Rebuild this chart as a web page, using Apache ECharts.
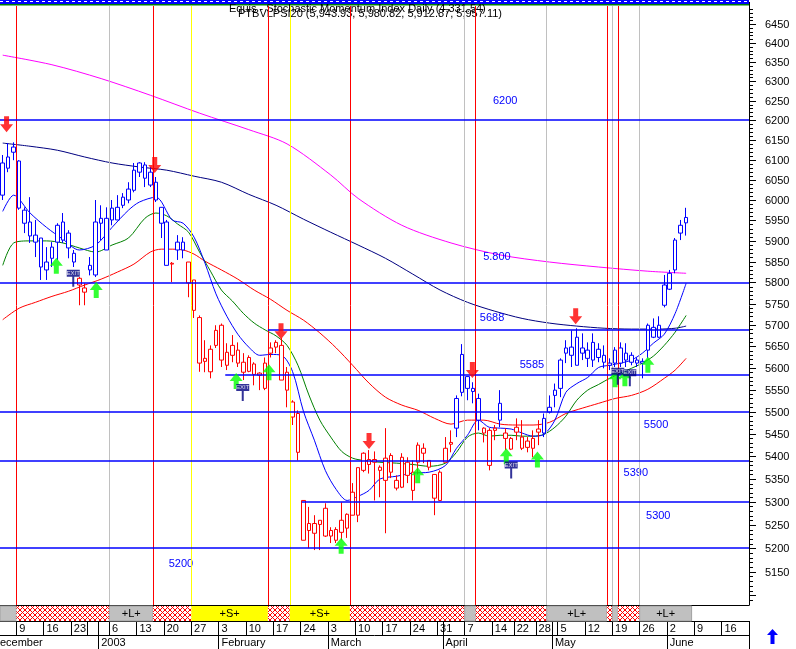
<!DOCTYPE html>
<html>
<head>
<meta charset="utf-8">
<script src="https://cdn.jsdelivr.net/npm/echarts@6/dist/echarts.min.js"></script>
<style>
html,body{margin:0;padding:0;background:#ffffff;}
#chart{width:796px;height:649px;}
</style>
</head>
<body>
<div id="chart"></div>
<script>
// ---------- categories (trading days) ----------
const dates = [
 '2002-12-04','2002-12-05','2002-12-06','2002-12-09','2002-12-10','2002-12-11','2002-12-12','2002-12-13','2002-12-16','2002-12-17',
 '2002-12-18','2002-12-19','2002-12-20','2002-12-23','2002-12-24','2002-12-27','2002-12-30','2002-12-31',
 '2003-01-02','2003-01-03','2003-01-06','2003-01-07','2003-01-08','2003-01-09','2003-01-10','2003-01-13','2003-01-14','2003-01-15',
 '2003-01-16','2003-01-17','2003-01-20','2003-01-21','2003-01-22','2003-01-23','2003-01-24','2003-01-27','2003-01-28','2003-01-29',
 '2003-01-30','2003-01-31',
 '2003-02-03','2003-02-04','2003-02-05','2003-02-06','2003-02-07','2003-02-10','2003-02-11','2003-02-12','2003-02-13','2003-02-14',
 '2003-02-17','2003-02-18','2003-02-19','2003-02-20','2003-02-21','2003-02-24','2003-02-25','2003-02-26','2003-02-27','2003-02-28',
 '2003-03-03','2003-03-04','2003-03-05','2003-03-06','2003-03-07','2003-03-10','2003-03-11','2003-03-12','2003-03-13','2003-03-14',
 '2003-03-17','2003-03-18','2003-03-19','2003-03-20','2003-03-21','2003-03-24','2003-03-25','2003-03-26','2003-03-27','2003-03-28',
 '2003-03-31',
 '2003-04-01','2003-04-02','2003-04-03','2003-04-04','2003-04-07','2003-04-08','2003-04-09','2003-04-10','2003-04-11','2003-04-14',
 '2003-04-15','2003-04-16','2003-04-17','2003-04-22','2003-04-23','2003-04-24','2003-04-25','2003-04-28','2003-04-29','2003-04-30',
 '2003-05-02','2003-05-05','2003-05-06','2003-05-07','2003-05-08','2003-05-09','2003-05-12','2003-05-13','2003-05-14','2003-05-15',
 '2003-05-16','2003-05-19','2003-05-20','2003-05-21','2003-05-22','2003-05-23','2003-05-26','2003-05-27','2003-05-28','2003-05-29',
 '2003-05-30',
 '2003-06-02','2003-06-03','2003-06-04','2003-06-05','2003-06-06','2003-06-09','2003-06-10','2003-06-11','2003-06-12','2003-06-13',
 '2003-06-16','2003-06-17','2003-06-18','2003-06-19','2003-06-20'
];

// ---------- OHLC ----------
const opens = [6012,6079,6119,6097,5975,5946,5914,5907,5830,5858, 5897,5946,5919,5870,5810,5777,5841,5818,5943,5955,
 5951,5951,5987,6000,6024,6069,6087,6037,6044,5982, 5946,5846,5878,5897,5849,5806,5717,5622,5591,5652,
 5699,5606,5629,5641,5613,5592,5609,5588,5553,5634, 5648,5652,5590,5522,5496,5303,5253,5232,5251,5286,
 5226,5240,5234,5243,5271,5271,5407,5382,5393,5376, 5347,5402,5347,5332,5387,5325,5387,5418,5391,5360,
 5303,5387,5427,5463,5544,5580,5546,5530,5463,5458, 5463,5519,5452,5440,5465,5443,5420,5418,5461,5452,
 5499,5537,5553,5634,5629,5671,5646,5641,5618,5643, 5613,5606,5611,5646,5634,5629,5611,5611,5641,5694,
 5671,5746,5784,5830,5919,5943.93];
const closes = [6092,6107,6132,5980,5943,5912,5897,5837,5849,5885, 5938,5902,5883,5849,5794,5787,5830,5946,5955,5878,
 5980,5982,6007,6027,6074,6092,6054,6069,6000,5943, 5841,5844,5897,5878,5799,5734,5611,5615,5643,5687,
 5618,5636,5652,5611,5590,5624,5585,5583,5611,5646, 5659,5572,5549,5488,5409,5217,5238,5253,5260,5226,
 5238,5217,5260,5273,5321,5375,5369,5393,5387,5369, 5396,5365,5330,5398,5358,5365,5425,5407,5376,5308,
 5365,5418,5431,5530,5631,5553,5553,5481,5452,5380, 5458,5481,5440,5416,5454,5418,5434,5440,5454,5485,
 5510,5549,5618,5646,5648,5606,5634,5622,5659,5624, 5629,5611,5641,5611,5618,5613,5618,5615,5699,5671,
 5699,5794,5822,5902,5938,5957.11];
const lows = [6000,6069,6099,5976,5919,5895,5861,5806,5806,5837, 5854,5895,5858,5837,5746,5746,5817,5813,5902,5878,
 5938,5951,5980,5992,6019,6057,6032,6032,5995,5907, 5841,5801,5854,5858,5765,5716,5591,5590,5576,5646,
 5602,5595,5613,5602,5572,5590,5560,5549,5549,5624, 5634,5572,5510,5470,5391,5217,5200,5196,5196,5224,
 5211,5211,5217,5222,5271,5256,5365,5362,5303,5310, 5232,5352,5325,5330,5341,5303,5360,5385,5369,5271,
 5303,5387,5409,5443,5535,5526,5519,5458,5431,5369, 5436,5465,5414,5414,5436,5414,5409,5398,5425,5443,
 5496,5510,5533,5611,5602,5606,5618,5602,5602,5613, 5599,5595,5602,5602,5602,5606,5602,5576,5622,5669,
 5669,5741,5782,5822,5902,5912.87];
const highs = [6112,6142,6144,6099,5982,6007,5951,5907,5885,5897, 5943,5968,5926,5878,5813,5798,5861,6000,5987,5982,
 6000,6012,6017,6044,6092,6094,6094,6082,6057,5982, 5951,5849,5914,5909,5849,5806,5722,5664,5652,5699,
 5703,5657,5676,5659,5634,5629,5613,5590,5624,5659, 5664,5669,5602,5526,5503,5303,5289,5271,5260,5297,
 5245,5245,5299,5275,5341,5375,5409,5414,5411,5380, 5463,5407,5358,5407,5398,5391,5431,5429,5391,5360,
 5369,5443,5458,5537,5655,5580,5567,5541,5465,5463, 5470,5549,5463,5443,5485,5481,5443,5458,5481,5496,
 5537,5564,5622,5664,5687,5692,5680,5659,5680,5657, 5652,5622,5648,5659,5657,5636,5624,5622,5703,5715,
 5720,5818,5830,5907,5951,5980.82];
// candle colour regime: b = blue, r = red
const candleColor = ('bbbbbbbbbbbbbb' + 'rr' + 'bbbbbbbbbbbbbbb' + 'r' + 'bb' +
  'rrrrrrrrrrrrrrrrrrrrrrrrrrrrrrrrrrrrrrrrrrrrrrrrr' + 'bbbbb' + 'rrr' + 'b' + 'rrrrrrr' +
  'bbbbbbbbbbbbbbbbbbbbbbbbbbb').split('');

// ---------- moving averages [day index, value] ----------
const maMagenta = [[0,6368],[9,6343],[18,6307],[27,6264],[36,6218],[45,6176],[52,6140],[60,6062],[65,6004],[73,5938],[82,5895],[91,5866],[100,5849],[109,5837],[118,5827],[125,5822]];
const maNavy = [[0,6142],[5,6134],[10,6124],[15,6107],[20,6092],[25,6082],[30,6074],[35,6059],[40,6044],[45,6014],[50,5987],[55,5953],[60,5921],[65,5890],[70,5858],[75,5820],[80,5782],[85,5753],[90,5732],[95,5715],[100,5704],[105,5697],[110,5692],[115,5690],[120,5690],[123,5692],[125,5697]];
const maRed = [[0,5712],[3,5739],[6,5753],[9,5767],[12,5779],[15,5794],[18,5808],[21,5825],[24,5844],[27,5873],[29,5880],[31,5880],[33,5878],[35,5868],[37,5851],[40,5830],[43,5808],[46,5782],[49,5760],[52,5734],[55,5711],[58,5681],[61,5646],[64,5606],[67,5565],[70,5533],[73,5515],[76,5503],[79,5485],[82,5472],[85,5481],[88,5481],[91,5472],[94,5470],[97,5470],[100,5476],[103,5496],[106,5508],[109,5519],[112,5530],[115,5537],[118,5551],[121,5576],[123,5595],[125,5622]];
const maGreen = [[0,5841],[2,5895],[5,5900],[8,5900],[11,5895],[14,5883],[17,5873],[20,5890],[23,5907],[26,5955],[28,5968],[30,5961],[32,5941],[34,5921],[36,5873],[38,5827],[40,5782],[42,5756],[44,5727],[46,5704],[48,5688],[50,5674],[52,5652],[54,5606],[56,5538],[58,5481],[60,5443],[62,5411],[64,5396],[66,5391],[69,5387],[72,5385],[75,5382],[78,5378],[81,5385],[83,5409],[85,5443],[87,5452],[89,5445],[91,5447],[93,5447],[95,5445],[97,5445],[99,5449],[101,5465],[103,5490],[105,5526],[107,5549],[109,5562],[111,5576],[113,5588],[115,5599],[117,5611],[119,5627],[121,5652],[123,5683],[125,5722]];
const maBlue = [[0,5972],[2,6012],[5,5968],[8,5933],[11,5904],[14,5878],[17,5890],[20,5933],[23,5975],[25,5995],[28,6007],[31,5951],[33,5943],[35,5909],[37,5846],[39,5773],[41,5720],[43,5678],[45,5648],[47,5629],[49,5631],[51,5629],[53,5592],[55,5501],[57,5436],[59,5369],[61,5327],[63,5303],[65,5312],[67,5325],[69,5350],[72,5356],[75,5363],[78,5365],[81,5380],[83,5418],[85,5447],[87,5481],[89,5465],[91,5463],[93,5461],[95,5452],[97,5445],[99,5449],[101,5481],[103,5544],[105,5564],[107,5578],[109,5601],[111,5606],[113,5611],[115,5618],[117,5634],[119,5657],[121,5678],[123,5727],[125,5798]];

// ---------- price levels ----------
const levelValues = [6200, 5800, 5688, 5585, 5500, 5390, 5300, 5200];
const levelStart  = [-0.5, -0.5, 48.5, 40.7, -0.5, -0.5, 54.7, -0.5];
const levelText   = ['6200', '5.800', '5688', '5585', '5500', '5390', '5300', '5200'];
const levelTextAt = [91.9, 90.4, 89.5, 96.8, 119.5, 115.8, 119.9, 32.6];
const levelTextVal= [6249, 5861, 5716, 5606, 5470, 5363, 5269, 5166];

// ---------- signals ----------
const sigPos  = [2.5, 19.5, 27.5, 34.5, 48.5, 52.5, 63.5, 84.5, 86.5, 99.5, 110.5, 111.5, 112.5, 116.5];
const sigType = ['r','g','r','y','r','y','r','g','r','g','r','g','r','g'];
const segStart = [-0.5, 2.5, 19.5, 27.5, 34.5, 48.5, 52.5, 63.5, 84.5, 86.5, 99.5, 110.5, 111.5, 112.5, 116.5];
const segEnd   = [2.5, 19.5, 27.5, 34.5, 48.5, 52.5, 63.5, 84.5, 86.5, 99.5, 110.5, 111.5, 112.5, 116.5, 126];
const segType  = ['L','N','L','N','S','N','S','N','L','N','L','N','L','N','L'];
const segLabel = ['', '', '+L+', '', '+S+', '', '+S+', '', '', '', '+L+', '', '', '', '+L+'];

const sellPos = [0.7, 27.8, 50.9, 67.0, 85.9, 104.8];
const sellVal = [6190, 6087, 5685, 5434, 5595, 5720];
const buyPos  = [9.8, 17.1, 42.7, 48.7, 61.9, 75.9, 92.1, 97.8, 112.0, 113.8, 118.0];
const buyVal  = [5840, 5782, 5570, 5590, 5205, 5358, 5400, 5393, 5574, 5576, 5607];
const exitPos = [12.9, 43.9, 93.0, 112.5, 114.7];
const exitVal = [5822, 5555, 5381, 5592, 5589];

// ---------- axis tick labels ----------
const yTickLabels = [5150,5200,5250,5300,5350,5400,5450,5500,5550,5600,5650,5700,5750,5800,5850,5900,5950,6000,6050,6100,6150,6200,6250,6300,6350,6400,6450];
const dayLabelDates = ['2002-12-09','2002-12-16','2002-12-23','2003-01-06','2003-01-13','2003-01-20','2003-01-27','2003-02-03','2003-02-10','2003-02-17','2003-02-24','2003-03-03','2003-03-10','2003-03-17','2003-03-24','2003-03-31','2003-04-07','2003-04-14','2003-04-22','2003-04-28','2003-05-05','2003-05-12','2003-05-19','2003-05-26','2003-06-02','2003-06-09','2003-06-16'];
const dayLabelText  = ['9','16','23','6','13','20','27','3','10','17','24','3','10','17','24','31','7','14','22','28','5','12','19','26','2','9','16'];
const extraTickDates = ['2002-12-30','2003-01-02','2003-04-01','2003-05-02'];
const monthDates = ['2003-01-02','2003-02-03','2003-03-03','2003-04-01','2003-05-02','2003-06-02'];
const monthText  = ['2003','February','March','April','May','June'];

// ---------- build ----------
const FONT = '"Liberation Sans", Arial, sans-serif';
const N = dates.length;
const XMIN = -0.5, XMAX = N - 0.5;
const BLUE = '#0000ff', RED = '#ff0000';

const hatchCanvas = (function () {
  const c = document.createElement('canvas'); c.width = 5; c.height = 5;
  const g = c.getContext('2d');
  g.fillStyle = '#ffffff'; g.fillRect(0, 0, 5, 5);
  g.strokeStyle = '#ff0000'; g.lineWidth = 1;
  g.beginPath(); g.moveTo(0, 0); g.lineTo(5, 5); g.moveTo(5, 0); g.lineTo(0, 5); g.stroke();
  return c;
})();

const candleData = opens.map(function (o, i) {
  const c = candleColor[i] === 'b' ? BLUE : RED;
  return { value: [o, closes[i], lows[i], highs[i]],
    itemStyle: { color: '#ffffff', color0: c, borderColor: c, borderColor0: c, borderWidth: 1 } };
});

const dayLabelMap = {}; dayLabelDates.forEach(function (d, k) { dayLabelMap[d] = dayLabelText[k]; });
const dayTickSet = new Set(dayLabelDates.concat(extraTickDates));
const monthMap = {}; monthDates.forEach(function (d, k) { monthMap[d] = monthText[k]; });

const sigColor = { r: '#ff0000', g: '#c0c0c0', y: '#ffff00' };
const markLineData = sigPos.map(function (p, k) {
  return { xAxis: p, lineStyle: { color: sigColor[sigType[k]], width: 1, type: 'solid' } };
}).concat(levelValues.map(function (v, k) {
  const ls = { color: BLUE, width: 1.5, type: 'solid' };
  if (levelStart[k] <= XMIN) return { yAxis: v, lineStyle: ls };
  return [{ coord: [levelStart[k], v], lineStyle: ls }, { coord: [XMAX, v], lineStyle: ls }];
}));

const yTickData = [];
for (let v = 5090; v <= 6490; v += 10) yTickData.push([XMAX, v, v % 50 === 0 ? 1 : 0]);
const yLabelSet = new Set(yTickLabels);

function maSeries(data, color) {
  return { type: 'line', xAxisIndex: 1, yAxisIndex: 0, data: data, showSymbol: false, smooth: 0.3,
    lineStyle: { color: color, width: 1 }, z: 2, silent: true };
}

const chart = echarts.init(document.getElementById('chart'), null, { renderer: 'canvas' });
chart.setOption({
  animation: false,
  backgroundColor: '#ffffff',
  textStyle: { fontFamily: FONT },
  grid: [
    { left: 0, top: 6, width: 749, height: 599 },
    { left: 0, top: 606, width: 749, height: 15 },
    { left: 0, top: 621, width: 749, height: 14 },
    { left: 0, top: 635, width: 749, height: 14 }
  ],
  xAxis: [
    { type: 'category', gridIndex: 0, data: dates, boundaryGap: true, position: 'bottom',
      axisLine: { show: true, onZero: false, lineStyle: { color: '#000', width: 1 } },
      axisTick: { show: false }, axisLabel: { show: false }, splitLine: { show: false } },
    { type: 'value', gridIndex: 0, min: XMIN, max: XMAX, show: false, axisLine: { onZero: false } },
    { type: 'value', gridIndex: 1, min: XMIN, max: XMAX, show: false, axisLine: { onZero: false } },
    { type: 'category', gridIndex: 2, data: dates, boundaryGap: true, position: 'top',
      axisLine: { show: true, onZero: false, lineStyle: { color: '#000', width: 1 } },
      axisTick: { show: true, inside: true, length: 14, interval: function (i, v) { return dayTickSet.has(v); }, lineStyle: { color: '#000' } },
      axisLabel: { show: true, inside: true, margin: 2, align: 'left', verticalAlign: 'top',
        interval: function (i, v) { return dayLabelMap[v] !== undefined; },
        formatter: function (v) { return dayLabelMap[v] || ''; }, color: '#000', fontSize: 11, fontFamily: FONT },
      splitLine: { show: false } },
    { type: 'category', gridIndex: 3, data: dates, boundaryGap: true, position: 'top',
      axisLine: { show: true, onZero: false, lineStyle: { color: '#000', width: 1 } },
      axisTick: { show: true, inside: true, length: 14, interval: function (i, v) { return monthMap[v] !== undefined; }, lineStyle: { color: '#000' } },
      axisLabel: { show: true, inside: true, margin: 2, align: 'left', verticalAlign: 'top',
        interval: function (i, v) { return monthMap[v] !== undefined; },
        formatter: function (v) { return monthMap[v] || ''; }, color: '#000', fontSize: 11, fontFamily: FONT },
      splitLine: { show: false } }
  ],
  yAxis: [
    { type: 'log', logBase: 10, gridIndex: 0, min: 5080, max: 6498, position: 'right',
      axisLine: { show: true, onZero: false, lineStyle: { color: '#000', width: 1 } },
      axisTick: { show: false }, axisLabel: { show: false }, splitLine: { show: false } },
    { type: 'value', gridIndex: 1, min: 0, max: 1, show: false, axisLine: { onZero: false } },
    { type: 'value', gridIndex: 2, min: 0, max: 1, show: false, axisLine: { onZero: false } },
    { type: 'value', gridIndex: 3, min: 0, max: 1, show: false, axisLine: { onZero: false } }
  ],
  series: [
    { type: 'scatter', xAxisIndex: 1, yAxisIndex: 0, data: [], z: 1, silent: true,
      markLine: { silent: true, symbol: ['none', 'none'], animation: false, label: { show: false },
        lineStyle: { color: BLUE, width: 1.5, type: 'solid' }, data: markLineData } },
    maSeries(maMagenta, '#ff00ff'),
    maSeries(maNavy, '#000080'),
    maSeries(maRed, '#ff0000'),
    maSeries(maGreen, '#008000'),
    maSeries(maBlue, '#0000ff'),
    { type: 'candlestick', xAxisIndex: 0, yAxisIndex: 0, data: candleData, barWidth: 4, z: 3, silent: true },
    { type: 'scatter', xAxisIndex: 1, yAxisIndex: 0, z: 4, silent: true, symbolSize: 2,
      itemStyle: { color: 'rgba(255,255,255,0)' },
      label: { show: true, position: 'inside', color: BLUE, fontSize: 11, fontFamily: FONT,
        textBorderWidth: 0, textBorderColor: 'transparent', opacity: 1,
        formatter: function (p) { return p.name; } },
      data: levelText.map(function (t, k) { return { name: t, value: [levelTextAt[k], levelTextVal[k]] }; }) },
    { type: 'scatter', xAxisIndex: 1, yAxisIndex: 0, z: 5, silent: true,
      symbol: 'path://M4,0 L9,0 L9,8 L13,8 L6.5,16 L0,8 L4,8 Z', symbolSize: [13, 16],
      itemStyle: { color: '#ff0000' },
      data: sellPos.map(function (p, k) { return [p, sellVal[k]]; }) },
    { type: 'scatter', xAxisIndex: 1, yAxisIndex: 0, z: 5, silent: true,
      symbol: 'path://M6.5,0 L13,8 L9,8 L9,16 L4,16 L4,8 L0,8 Z', symbolSize: [13, 16],
      itemStyle: { color: '#00ff00' },
      data: buyPos.map(function (p, k) { return [p, buyVal[k]]; }) },
    { type: 'scatter', xAxisIndex: 1, yAxisIndex: 0, z: 6, silent: true,
      symbol: 'path://M0,0 L13,0 L13,7 L7.5,7 L7.5,17 L5.5,17 L5.5,7 L0,7 Z', symbolSize: [13, 17],
      symbolOffset: [0, 5], itemStyle: { color: '#000080' },
      label: { show: true, position: 'inside', offset: [0, -5], formatter: 'EXIT', color: '#ffffff', fontSize: 6, fontFamily: FONT, textBorderWidth: 0 },
      data: exitPos.map(function (p, k) { return [p, exitVal[k]]; }) },
    { type: 'custom', xAxisIndex: 1, yAxisIndex: 0, z: 6, silent: true, clip: false,
      data: yTickData,
      renderItem: function (params, api) {
        const v = api.value(1), major = api.value(2) === 1;
        const pt = api.coord([api.value(0), v]);
        const y = Math.round(pt[1]) + 0.5, x = Math.round(pt[0]);
        const children = [{ type: 'line', shape: { x1: x, y1: y, x2: x + (major ? 7 : 4), y2: y },
          style: { stroke: '#000', lineWidth: 1 } }];
        if (yLabelSet.has(v)) {
          children.push({ type: 'text', x: x + 16, y: y,
            style: { text: String(v), fill: '#000', font: '11px ' + FONT, verticalAlign: 'middle', align: 'left' } });
        }
        return { type: 'group', children: children };
      } },
    { type: 'custom', xAxisIndex: 2, yAxisIndex: 1, z: 2, silent: true, clip: false,
      encode: { x: [0, 1] },
      data: segStart.map(function (s, k) { return [s, segEnd[k]]; }),
      renderItem: function (params, api) {
        const k = params.dataIndex, t = segType[k];
        const p0 = api.coord([api.value(0), 1]), p1 = api.coord([api.value(1), 0]);
        const fill = t === 'L' ? '#c0c0c0' : (t === 'S' ? '#ffff00' : { image: hatchCanvas, repeat: 'repeat' });
        const children = [{ type: 'rect', shape: { x: p0[0], y: p0[1], width: p1[0] - p0[0], height: p1[1] - p0[1] },
          style: { fill: fill, stroke: t === 'L' ? '#a0a0a0' : null, lineWidth: 1 } }];
        if (segLabel[k]) {
          children.push({ type: 'text', x: (p0[0] + p1[0]) / 2, y: (p0[1] + p1[1]) / 2,
            style: { text: segLabel[k], fill: '#000', font: '11px ' + FONT, align: 'center', verticalAlign: 'middle' } });
        }
        return { type: 'group', children: children };
      } }
  ],
  graphic: [
    { type: 'rect', silent: true, shape: { x: 0, y: 0, width: 749, height: 4 }, style: { fill: '#0000ff' } },
    { type: 'line', silent: true, shape: { x1: 0, y1: 1.5, x2: 749, y2: 1.5 }, style: { stroke: '#ffffff', lineWidth: 1, lineDash: [3, 3] } },
    { type: 'rect', silent: true, shape: { x: 0, y: 4, width: 749, height: 1.5 }, style: { fill: '#008000' } },
    { type: 'line', silent: true, shape: { x1: 749.5, y1: 2, x2: 749.5, y2: 6 }, style: { stroke: '#000', lineWidth: 1 } },
    { type: 'text', silent: true, x: 229, y: 3, style: { text: 'Equis - Stochastic Momentum Index Daily (4,331.54)', fill: '#000', font: '11px ' + FONT } },
    { type: 'text', silent: true, x: 238, y: 8.5, style: { text: 'PTBVLPSI20 (5,943.93, 5,980.82, 5,912.87, 5,957.11)', fill: '#000', font: '11px ' + FONT } },
    { type: 'text', silent: true, x: -8, y: 637, style: { text: 'December', fill: '#000', font: '11px ' + FONT } },
    { type: 'polygon', silent: true, shape: { points: [[772.5, 629], [778, 635], [774.5, 635], [774.5, 644], [770.5, 644], [770.5, 635], [767, 635]] }, style: { fill: '#0000ff' } }
  ]
});
</script>
</body>
</html>
